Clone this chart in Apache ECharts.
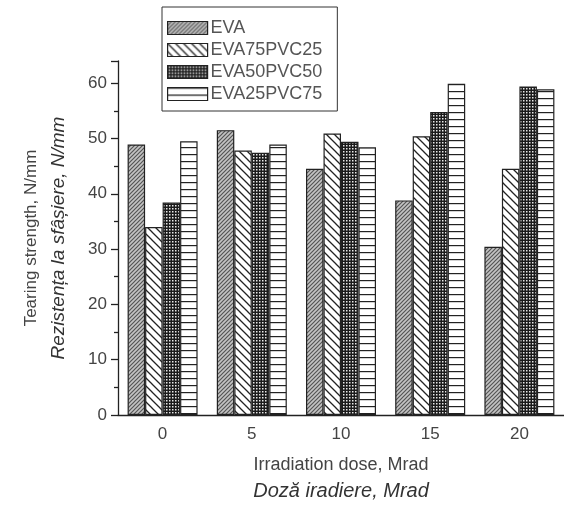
<!DOCTYPE html>
<html>
<head>
<meta charset="utf-8">
<script src="https://cdn.jsdelivr.net/npm/echarts@6/dist/echarts.min.js"></script>
<style>
html, body { margin: 0; padding: 0; background: #fff; }
#chart { width: 564px; height: 506px; }
</style>
</head>
<body>
<div id="chart"></div>
<script>
// 数据
var doses = ['0', '5', '10', '15', '20'];
var seriesNames = ['EVA', 'EVA75PVC25', 'EVA50PVC50', 'EVA25PVC75'];
var eva = [48.9, 51.5, 44.5, 38.8, 30.4];
var eva75pvc25 = [34.0, 47.8, 50.9, 50.4, 44.5];
var eva50pvc50 = [38.4, 47.4, 49.4, 54.8, 59.4];
var eva25pvc75 = [49.5, 48.9, 48.4, 59.9, 58.9];
var yTicks = [0, 10, 20, 30, 40, 50, 60];

// 填充图案
function makeTile(w, h, draw){
	var c = document.createElement('canvas');
	c.width = w; c.height = h;
	var ctx = c.getContext('2d');
	draw(ctx, w, h);
	return { image: c, repeat: 'repeat' };
}
var patEVA = makeTile(4, 4, function(ctx, w, h){
	ctx.fillStyle = '#c4c4c4';
	ctx.fillRect(0, 0, w, h);
	ctx.strokeStyle = '#555';
	ctx.lineWidth = 1.2;
	ctx.beginPath();
	ctx.moveTo(-1, h + 1); ctx.lineTo(w + 1, -1);
	ctx.moveTo(-1, 1); ctx.lineTo(1, -1);
	ctx.moveTo(w - 1, h + 1); ctx.lineTo(w + 1, h - 1);
	ctx.stroke();
});
var pat75 = makeTile(8, 8, function(ctx, w, h){
	ctx.fillStyle = '#fff';
	ctx.fillRect(0, 0, w, h);
	ctx.strokeStyle = '#222';
	ctx.lineWidth = 1.3;
	ctx.beginPath();
	ctx.moveTo(-1, -1); ctx.lineTo(w + 1, h + 1);
	ctx.moveTo(-1, h - 1); ctx.lineTo(1, h + 1);
	ctx.moveTo(w - 1, -1); ctx.lineTo(w + 1, 1);
	ctx.stroke();
});
var pat50 = makeTile(3, 3, function(ctx, w, h){
	ctx.fillStyle = '#1a1a1a';
	ctx.fillRect(0, 0, w, h);
	ctx.fillStyle = '#e8e8e8';
	ctx.fillRect(1, 1, 1.5, 1.5);
});
var pat25 = makeTile(8, 7, function(ctx, w, h){
	ctx.fillStyle = '#fff';
	ctx.fillRect(0, 0, w, h);
	ctx.fillStyle = '#222';
	ctx.fillRect(0, 0, w, 1.2);
});
var patterns = [patEVA, pat75, pat50, pat25];
var values = [eva, eva75pvc25, eva50pvc50, eva25pvc75];

var myChart = echarts.init(document.getElementById('chart'));

var series = [];
for(var i = 0; i < seriesNames.length; i++){
	series.push({
		name: seriesNames[i],
		type: 'bar',
		xAxisIndex: 0,
		barWidth: 17.5,
		barGap: '0%',
		data: values[i],
		itemStyle: {
			color: patterns[i],
			borderColor: '#222',
			borderWidth: 1.2
		}
	});
}

var axisText = { color: '#444', fontSize: 17, fontFamily: 'Liberation Sans, Arial, sans-serif' };

var option = {
	animation: false,
	backgroundColor: '#fff',
	grid: { left: 118, top: 61, bottom: 90, right: -2 },
	legend: {
		data: seriesNames,
		orient: 'vertical',
		left: 162,
		top: 7,
		padding: [12, 15, 8, 5],
		itemGap: 4,
		itemWidth: 40,
		itemHeight: 13,
		icon: 'rect',
		borderColor: '#333',
		borderWidth: 1,
		itemStyle: { borderColor: '#222', borderWidth: 1.2 },
		textStyle: { color: '#555', fontSize: 18, fontFamily: 'Liberation Sans, Arial, sans-serif', padding: [0, 0, 0, -2] }
	},
	xAxis: [{
		type: 'category',
		data: doses,
		position: 'bottom',
		axisLine: { lineStyle: { color: '#222', width: 1.3 } },
		axisTick: { alignWithLabel: true, length: 7, lineStyle: { color: '#222', width: 1.3 } },
		axisLabel: { margin: 11, color: axisText.color, fontSize: axisText.fontSize, fontFamily: axisText.fontFamily },
		name: '{a|Irradiation dose, Mrad}\n{b|Doză iradiere, Mrad}',
		nameLocation: 'middle',
		nameGap: 39,
		nameTextStyle: {
			rich: {
				a: { fontSize: 18, color: '#444', lineHeight: 22, fontFamily: 'Liberation Sans, Arial, sans-serif' },
				b: { fontSize: 20, color: '#333', lineHeight: 30, fontStyle: 'italic', fontFamily: 'Liberation Sans, Arial, sans-serif' }
			}
		}
	}, {
		// 组间的小刻度
		type: 'category',
		data: doses,
		position: 'bottom',
		axisLine: { show: false },
		axisTick: { length: 4, lineStyle: { color: '#222', width: 1.3 } },
		axisLabel: { show: false }
	}],
	yAxis: {
		type: 'value',
		min: yTicks[0],
		max: 64,
		interval: 10,
		axisLine: { show: true, lineStyle: { color: '#222', width: 1.3 } },
		axisTick: { show: true, length: 7, lineStyle: { color: '#222', width: 1.3 } },
		minorTick: { show: true, splitNumber: 2, length: 4, lineStyle: { color: '#222', width: 1.3 } },
		splitLine: { show: false },
		axisLabel: { margin: 11, showMaxLabel: false, color: axisText.color, fontSize: axisText.fontSize, fontFamily: axisText.fontFamily },
		name: '{a|Tearing strength, N/mm}\n{b|Rezistența la sfâșiere, N/mm}',
		nameLocation: 'middle',
		nameRotate: 90,
		nameGap: 46,
		nameTextStyle: {
			rich: {
				a: { fontSize: 17, color: '#444', lineHeight: 30, fontFamily: 'Liberation Sans, Arial, sans-serif' },
				b: { fontSize: 19, color: '#333', lineHeight: 26, fontStyle: 'italic', fontFamily: 'Liberation Sans, Arial, sans-serif' }
			}
		}
	},
	series: series
};
myChart.setOption(option);
</script>
</body>
</html>
